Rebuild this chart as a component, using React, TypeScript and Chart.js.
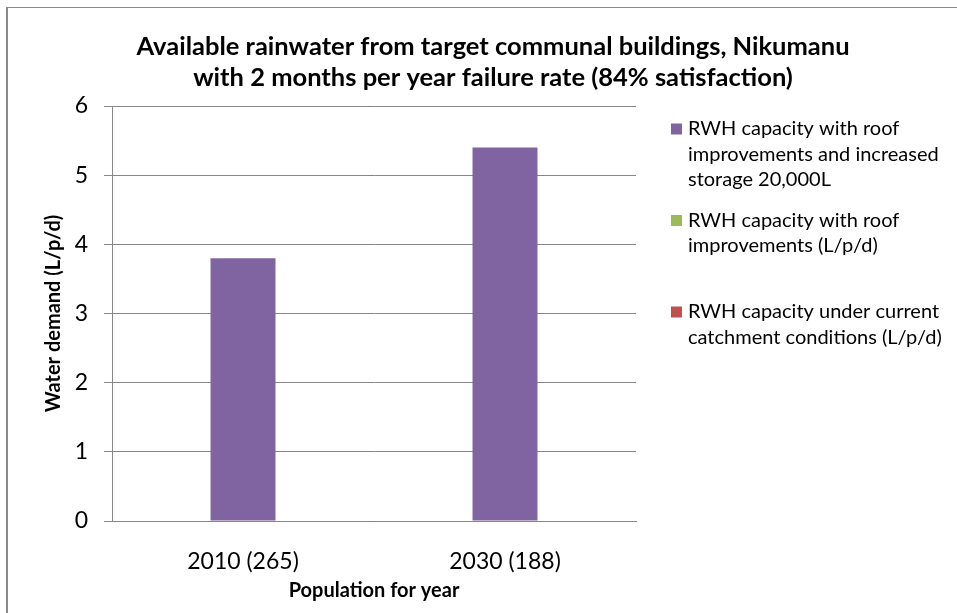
import React, { useEffect, useRef } from "react";
import { Chart, registerables } from "chart.js";

Chart.register(...registerables);

const categories = ["2010 (265)", "2030 (188)"];
const improvedStorage = [3.8, 5.4];
const roofImprovements = [0, 0];
const currentConditions = [0, 0];
const seriesLabels = [
  "RWH capacity with roof improvements and increased storage 20,000L",
  "RWH capacity with roof improvements (L/p/d)",
  "RWH capacity under current catchment conditions (L/p/d)",
];
const legendLines = [
  ["RWH capacity with roof", "improvements and increased", "storage 20,000L"],
  ["RWH capacity with roof", "improvements (L/p/d)"],
  ["RWH capacity under current", "catchment conditions (L/p/d)"],
];
const seriesColors = ["#8064A2", "#9BBB59", "#C0504D"];
const titleLines = [
  "Available rainwater from target communal buildings, Nikumanu",
  "with 2 months per year failure rate (84% satisfaction)",
];
const yTitle = "Water demand (L/p/d)";
const xTitle = "Population for year";

const FONT = "Lato, 'Open Sans', sans-serif";

export default function App() {
  const ref = useRef<HTMLCanvasElement | null>(null);

  useEffect(() => {
    if (!ref.current) return;
    const customDraw = {
      id: "customDraw",
      afterDraw(chart: any) {
        const ctx = chart.ctx;
        ctx.save();
        // Title
        ctx.fillStyle = "#000";
        ctx.font = `bold 25.5px ${FONT}`;
        ctx.textAlign = "center";
        ctx.textBaseline = "middle";
        titleLines.forEach((t, i) => ctx.fillText(t, 493, 47 + i * 31));
        // Legend
        ctx.font = `20px ${FONT}`;
        ctx.textAlign = "left";
        legendLines.forEach((lines, i) => {
          const y0 = 129 + i * 91.5;
          ctx.fillStyle = seriesColors[i];
          ctx.fillRect(671, y0 - 5.5, 11, 11);
          ctx.fillStyle = "#000";
          lines.forEach((l, j) => ctx.fillText(l, 688, y0 + j * 25.5));
        });
        ctx.restore();
      },
    };

    const chart = new Chart(ref.current, {
      type: "bar",
      data: {
        labels: categories,
        datasets: [
          { label: seriesLabels[0], data: improvedStorage, backgroundColor: seriesColors[0], order: 1 },
          { label: seriesLabels[1], data: roofImprovements, backgroundColor: seriesColors[1], order: 2 },
          { label: seriesLabels[2], data: currentConditions, backgroundColor: seriesColors[2], order: 3 },
        ],
      },
      options: {
        animation: false,
        responsive: false,
        maintainAspectRatio: false,
        layout: { padding: { top: 106, left: 30, right: 321, bottom: 4 } },
        datasets: { bar: { grouped: false, categoryPercentage: 1, barPercentage: 0.248 } },
        plugins: {
          legend: { display: false },
          title: { display: false },
          tooltip: { enabled: false },
        },
        scales: {
          x: {
            grid: { display: false },
            border: { display: true, color: "#868686", width: 1 },
            ticks: { color: "#000", font: { family: FONT, size: 23 }, padding: 19 },
            title: {
              display: true,
              text: xTitle,
              color: "#000",
              font: { family: FONT, size: 20, weight: "bold" },
              padding: { top: 4, bottom: 6 },
            },
            afterFit(scale: any) {
              scale.height = 88;
            },
          },
          y: {
            min: 0,
            max: 6,
            ticks: { stepSize: 1, color: "#000", font: { family: FONT, size: 23 }, padding: 16 },
            grid: { color: "#868686", lineWidth: 1, tickLength: 8, drawTicks: true },
            border: { display: true, color: "#868686", width: 1 },
            title: {
              display: true,
              text: yTitle,
              color: "#000",
              font: { family: FONT, size: 20, weight: "bold" },
              padding: { top: 12, bottom: 0 },
            },
            afterFit(scale: any) {
              scale.width = 82;
            },
          },
        },
      },
      plugins: [customDraw],
    });
    return () => chart.destroy();
  }, []);

  return (
    <>
      <div
        style={{
          position: "fixed",
          left: 6,
          top: 7,
          width: 2000,
          height: 2000,
          borderLeft: "2px solid #8a8a8a",
          borderTop: "1px solid #8a8a8a",
        }}
      />
      <canvas
        ref={ref}
        width={957}
        height={613}
        style={{ position: "fixed", left: 0, top: 0, width: 957, height: 613 }}
      />
    </>
  );
}
